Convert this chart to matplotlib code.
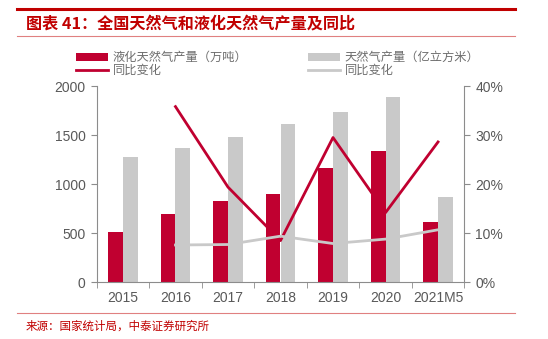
import matplotlib
matplotlib.use("Agg")
import matplotlib.pyplot as plt
from matplotlib.lines import Line2D
from matplotlib.patches import Patch
import numpy as np

plt.rcParams['font.family'] = ['Noto Sans CJK SC', 'DejaVu Sans']

categories = ['2015', '2016', '2017', '2018', '2019', '2020', '2021M5']
lng_output = [510, 693, 828, 900, 1168, 1335, 617]
gas_output = [1274, 1368, 1477, 1613, 1735, 1891, 869]
lng_yoy = [None, 35.8, 19.4, 8.5, 29.5, 14.2, 28.6]
gas_yoy = [None, 7.6, 7.7, 9.4, 7.9, 8.8, 10.7]

RED = '#C00030'
GRAY = '#C9C9C9'
AXC = '#8C8C8C'
TXT = '#595959'

fig = plt.figure(figsize=(5.48, 3.39), dpi=100)
ax = fig.add_axes([96.7/548, 1-282.3/339, (464.3-96.7)/548, (282.3-86)/339])
ax2 = ax.twinx()

x = np.arange(len(categories))
w = 0.28
ax.bar(x - w/2, lng_output, width=w, color=RED, zorder=2)
ax.bar(x + w/2, gas_output, width=w, color=GRAY, zorder=2)

xl = [xi for xi, v in zip(x, lng_yoy) if v is not None]
ax2.plot(xl, [v for v in lng_yoy if v is not None], color=RED, lw=2, zorder=3)
ax2.plot(xl, [v for v in gas_yoy if v is not None], color=GRAY, lw=2, zorder=3)

ax.set_xlim(-0.5, len(categories) - 0.5)
ax.set_ylim(0, 2000)
ax.set_yticks([0, 500, 1000, 1500, 2000])
ax2.set_ylim(0, 40)
ax2.set_yticks([0, 10, 20, 30, 40])
ax2.set_yticklabels([f'{v}%' for v in [0, 10, 20, 30, 40]])

ax.set_xticks(x)
ax.set_xticklabels(categories)
ax.set_xticks(np.arange(-0.5, len(categories)), minor=True)
ax.tick_params(axis='x', which='major', length=0, pad=6)
ax.tick_params(axis='x', which='minor', length=4, color=AXC, direction='out')

for a in (ax, ax2):
    a.spines['top'].set_visible(False)
    a.spines['bottom'].set_color(AXC)
    a.spines['left'].set_color(AXC)
    a.spines['right'].set_color(AXC)
ax.spines['right'].set_visible(False)
ax2.spines['left'].set_visible(False)
ax2.spines['bottom'].set_visible(False)

for lab in ax.get_xticklabels() + ax.get_yticklabels() + ax2.get_yticklabels():
    lab.set_fontfamily(['Liberation Sans', 'DejaVu Sans'])
    lab.set_fontsize(10)
    lab.set_color(TXT)
ax.tick_params(axis='y', length=4, color=AXC, direction='out', pad=4)
ax2.tick_params(axis='y', length=4, color=AXC, direction='out', pad=4)

# Top decoration
fig.add_artist(Line2D([17/548, 515/548], [1-9/339, 1-9/339], color='#C00000', lw=2.2))
fig.text(26/548, 1-23/339, '图表 41：全国天然气和液化天然气产量及同比', color='#C00000',
         fontsize=11.6, fontweight='bold', style='italic', va='center', ha='left')
fig.add_artist(Line2D([17/548, 515/548], [1-36/339, 1-36/339], color='#E08080', lw=0.8))

# Legend
handles1 = [Patch(facecolor=RED, edgecolor='none'), Line2D([], [], color=RED, lw=2)]
labels1 = ['液化天然气产量（万吨）', '同比变化']
handles2 = [Patch(facecolor=GRAY, edgecolor='none'), Line2D([], [], color=GRAY, lw=2)]
labels2 = ['天然气产量（亿立方米）', '同比变化']
leg_kw = dict(frameon=False, fontsize=8.8, labelcolor='#6E6E6E', handlelength=2.6,
              handleheight=0.7, handletextpad=0.4, labelspacing=0.0, borderpad=0)
leg1 = fig.legend(handles1, labels1, loc='upper left', bbox_to_anchor=(70/548, 1-45/339), **leg_kw)
leg2 = fig.legend(handles2, labels2, loc='upper left', bbox_to_anchor=(302/548, 1-45/339), **leg_kw)

# Footer
fig.add_artist(Line2D([17/548, 515/548], [1-313/339, 1-313/339], color='#E08080', lw=0.8))
fig.text(26/548, 1-326/339, '来源：国家统计局，中泰证券研究所', color='#C00000', fontsize=8.3,
         va='center', ha='left')

fig.savefig('out.png', dpi=100)
